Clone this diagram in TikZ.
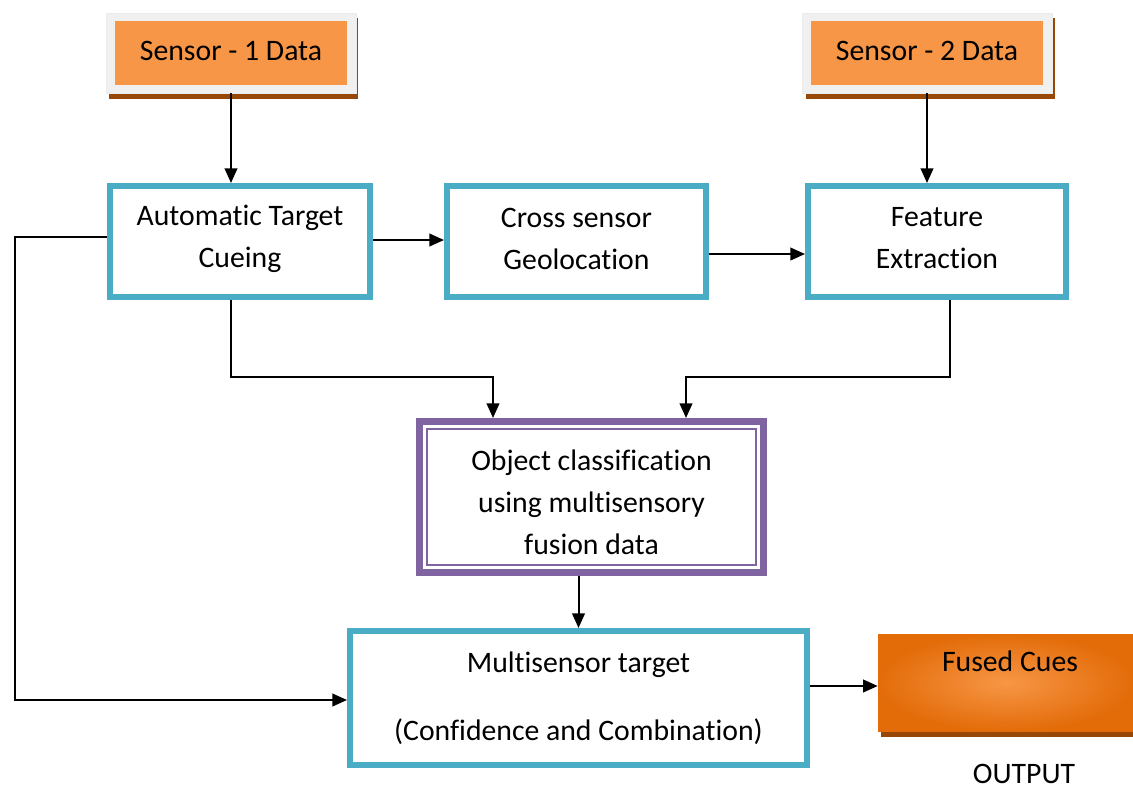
\documentclass[tikz,border=0pt]{standalone}
\usepackage{fontspec}
\setmainfont{Carlito}[Ligatures={NoCommon}]
\usetikzlibrary{arrows.meta,calc}
\definecolor{orangec}{HTML}{F79646}
\definecolor{orangedk}{HTML}{E36C09}
\definecolor{shadowc}{HTML}{984806}
\definecolor{framec}{HTML}{F0F0F0}
\definecolor{cyanc}{HTML}{4BACC6}
\definecolor{purplec}{HTML}{8064A2}
\newcommand{\fsz}{\fontsize{22.3}{31.5}\selectfont}
\begin{document}
\begin{tikzpicture}[x=0.75pt,y=-0.75pt,
  txt/.style={font=\fsz, align=center, inner sep=0pt, text=black},
  frame/.style={fill=framec, draw=black!8, line width=0.4pt, minimum width=250*0.75pt, minimum height=80*0.75pt, inner sep=0pt},
  sensorbox/.style={fill=orangec, minimum width=232*0.75pt, minimum height=64*0.75pt, inner sep=0pt},
  cyanbox/.style={draw=cyanc, line width=4.5pt, fill=white, minimum height=111*0.75pt, inner sep=0pt},
  arr/.style={line width=1.5pt, -{Triangle[length=11pt,width=9.5pt]}}
]
\useasboundingbox (0,0) rectangle (1133,789);
\fill[white] (0,0) rectangle (1133,789);

% Sensor 1
\fill[shadowc] (109,18) rectangle (358,99);
\node[frame] (s1f) at (231,53) {};
\node[sensorbox, label={[txt, yshift=1.5pt]center:Sensor - 1 Data}] (s1) at (231,53) {};

% Sensor 2
\fill[shadowc] (806,18) rectangle (1055,99);
\node[frame] (s2f) at (927.5,53) {};
\node[sensorbox, label={[txt, yshift=1.5pt]center:Sensor - 2 Data}] (s2) at (927,53) {};

% Cyan boxes
\node[cyanbox, minimum width=260*0.75pt, label={[txt, yshift=2.25pt]center:Automatic Target\\Cueing}] (atc) at (240,241.5) {};
\node[cyanbox, minimum width=259*0.75pt, label={[txt, yshift=2.25pt]center:Cross sensor\\Geolocation}] (csg) at (576.5,241.5) {};
\node[cyanbox, minimum width=258*0.75pt, label={[txt, yshift=2.25pt]center:Feature\\Extraction}] (fe) at (937,241.5) {};

% Object classification (double border)
\node[draw=purplec, line width=5.25pt, fill=white, minimum width=344*0.75pt, minimum height=151*0.75pt, inner sep=0pt] (obj) at (591.5,497) {};
\draw[purplec, line width=1.3pt] ($(obj.north west)+(11,11)$) rectangle ($(obj.south east)+(-11,-11)$);
\node[txt, yshift=-3.75pt] (objt) at (obj.center) {Object classification\\using multisensory\\fusion data};

% Multisensor target
\node[txt, draw=cyanc, line width=4.5pt, fill=white, minimum width=457*0.75pt, minimum height=134*0.75pt] (mt) at (578.5,698) {Multisensor target\\[19.5pt](Confidence and Combination)};

% Fused cues
\fill[shadowc] (881,640) rectangle (1133,737);
\node[inner sep=0pt, minimum width=255*0.75pt, minimum height=97*0.75pt, inner color=orangec, outer color=orangedk] (fc) at (1005.5,682.5) {};
\node[txt] (fct) at (1010,661) {Fused Cues};
\node[txt] (out) at (1024,774) {OUTPUT};

% Connectors
\draw[arr] (s1f.south) -- (atc.north -| s1f.south);
\draw[arr] (s2f.south -| s2.south) -- (s2.south |- fe.north);
\draw[arr] (atc.east |- 0,240) -- (csg.west |- 0,240);
\draw[arr] (csg.east |- 0,254) -- (fe.west |- 0,254);
\draw[arr] (atc.south -| 231,0) -- (231,377) -- (493,377) -- (obj.north -| 493,0);
\draw[arr] (fe.south -| 950,0) -- (950,377) -- (686,377) -- (obj.north -| 686,0);
\draw[arr] (obj.south -| mt.north) -- (mt.north);
\draw[arr] (atc.west |- 0,237) -- (15,237) -- (15,700) -- (mt.west |- 0,700);
\draw[arr] (mt.east |- 0,686) -- (fc.west |- 0,686);
\end{tikzpicture}
\end{document}
